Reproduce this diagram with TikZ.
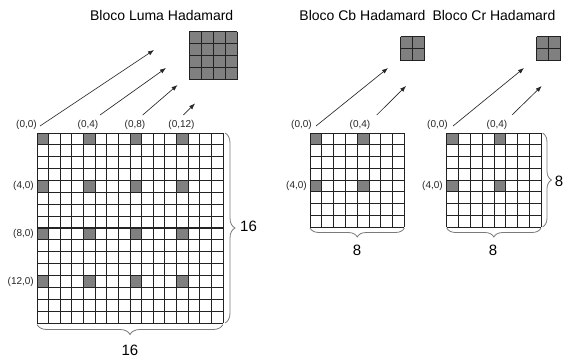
\documentclass[tikz,border=0pt]{standalone}
\usepackage{fontspec}
\setmainfont{Liberation Sans}
\usetikzlibrary{decorations.pathreplacing,arrows.meta}
\definecolor{cellgray}{HTML}{808080}
\definecolor{gridcol}{HTML}{222222}
\definecolor{bracecol}{HTML}{7A7A7A}
\begin{document}
\begin{tikzpicture}[x=1pt,y=-1pt,
  gridln/.style={draw=gridcol,line width=0.8pt},
  ptr/.style={-{Latex[length=6pt,width=4.5pt]},line width=0.65pt,draw=black!85},
  brc/.style={draw=bracecol,line width=0.8pt,decorate},
  crd/.style={font=\fontsize{10}{11}\selectfont,inner sep=0pt,text=black!85},
  ttl/.style={font=\fontsize{14}{16}\selectfont,inner sep=0pt},
  dimlbl/.style={font=\fontsize{15}{17}\selectfont,inner sep=0pt}]
\useasboundingbox (0,0) rectangle (570,360);

% ---------- Luma 16x16 ----------
\def\cw{11.625}\def\ch{11.875}
\foreach \r in {0,4,8,12}{\foreach \c in {0,4,8,12}{%
  \fill[cellgray] ({37+\c*\cw},{133+\r*\ch}) rectangle ++(\cw,\ch);}}
\foreach \k in {0,...,16}{%
  \draw[gridln] ({37+\k*\cw},133) -- ++(0,{16*\ch});
  \draw[gridln] (37,{133+\k*\ch}) -- ++({16*\cw},0);}
\draw[draw=gridcol,line width=1.8pt] (37,{133+8*\ch}) -- ++({16*\cw},0);

% small 4x4 block
\fill[cellgray] (189,31.5) rectangle (237,79.5);
\foreach \k in {0,...,4}{%
  \draw[gridln] ({189+\k*12},31.5) -- ++(0,48);
  \draw[gridln] (189,{31.5+\k*12}) -- ++(48,0);}

\node[ttl] (tL) at (161.7,15) {Bloco Luma Hadamard};
\node[crd,anchor=east] (L00) at (37,125) {(0,0)};
\node[crd] (L04) at (88,125) {(0,4)};
\node[crd] (L08) at (135,125) {(0,8)};
\node[crd] (L012) at (181.5,125) {(0,12)};
\node[crd,anchor=east] (L40) at (34,186.4) {(4,0)};
\node[crd,anchor=east] (L80) at (34,234) {(8,0)};
\node[crd,anchor=east] (L120) at (34,281.5) {(12,0)};

\coordinate (a1s) at (40,126); \coordinate (a1e) at (154,50);
\coordinate (a2s) at (100,115); \coordinate (a2e) at (166,68);
\coordinate (a3s) at (142.7,115); \coordinate (a3e) at (177.5,85);
\coordinate (a4s) at (183.3,115); \coordinate (a4e) at (195,103.5);
\draw[ptr] (a1s) -- (a1e);
\draw[ptr] (a2s) -- (a2e);
\draw[ptr] (a3s) -- (a3e);
\draw[ptr] (a4s) -- (a4e);

\draw[brc,decoration={brace,amplitude=10pt}] (225,133) -- (225,323);
\draw[brc,decoration={brace,amplitude=10pt}] (223,324.5) -- (37,324.5);
\node[dimlbl] (L16r) at (248.5,226) {16};
\node[dimlbl] (L16b) at (130,350) {16};

% ---------- Cb 8x8 ----------
\def\cwb{11.8}\def\chb{11.75}
\foreach \r in {0,4}{\foreach \c in {0,4}{%
  \fill[cellgray] ({310+\c*\cwb},{133+\r*\chb}) rectangle ++(\cwb,\chb);}}
\foreach \k in {0,...,8}{%
  \draw[gridln] ({310+\k*\cwb},133) -- ++(0,{8*\chb});
  \draw[gridln] (310,{133+\k*\chb}) -- ++({8*\cwb},0);}
\fill[cellgray] (400.7,36.7) rectangle (424.7,60.7);
\foreach \k in {0,1,2}{%
  \draw[gridln] ({400.7+\k*12},36.7) -- ++(0,24);
  \draw[gridln] (400.7,{36.7+\k*12}) -- ++(24,0);}

\node[ttl] (tCb) at (362.5,15) {Bloco Cb Hadamard};
\node[crd,anchor=east] (B00) at (312,125) {(0,0)};
\node[crd] (B04) at (360,125) {(0,4)};
\node[crd,anchor=east] (B40) at (307,186.4) {(4,0)};
\coordinate (b1s) at (316,126); \coordinate (b1e) at (388,68);
\coordinate (b2s) at (376.7,115); \coordinate (b2e) at (406,86);
\draw[ptr] (b1s) -- (b1e);
\draw[ptr] (b2s) -- (b2e);
\draw[brc,decoration={brace,amplitude=9pt}] (404.4,228) -- (310,228);
\node[dimlbl] (B8b) at (357,250) {8};

% ---------- Cr 8x8 ----------
\foreach \r in {0,4}{\foreach \c in {0,4}{%
  \fill[cellgray] ({446.7+\c*\cwb},{133+\r*\chb}) rectangle ++(\cwb,\chb);}}
\foreach \k in {0,...,8}{%
  \draw[gridln] ({446.7+\k*\cwb},133) -- ++(0,{8*\chb});
  \draw[gridln] (446.7,{133+\k*\chb}) -- ++({8*\cwb},0);}
\fill[cellgray] (536.7,36.7) rectangle (560.7,60.7);
\foreach \k in {0,1,2}{%
  \draw[gridln] ({536.7+\k*12},36.7) -- ++(0,24);
  \draw[gridln] (536.7,{36.7+\k*12}) -- ++(24,0);}

\node[ttl] (tCr) at (494,15) {Bloco Cr Hadamard};
\node[crd,anchor=east] (R00) at (448,125) {(0,0)};
\node[crd] (R04) at (497,125) {(0,4)};
\node[crd,anchor=east] (R40) at (443,186.4) {(4,0)};
\coordinate (r1s) at (453,126); \coordinate (r1e) at (524,68);
\coordinate (r2s) at (512,115); \coordinate (r2e) at (541.7,86);
\draw[ptr] (r1s) -- (r1e);
\draw[ptr] (r2s) -- (r2e);
\draw[brc,decoration={brace,amplitude=9pt}] (541,228) -- (446.7,228);
\draw[brc,decoration={brace,amplitude=9pt}] (542.5,133) -- (542.5,227);
\node[dimlbl] (R8b) at (493,250) {8};
\node[dimlbl] (R8r) at (559,181) {8};
\end{tikzpicture}
\end{document}
